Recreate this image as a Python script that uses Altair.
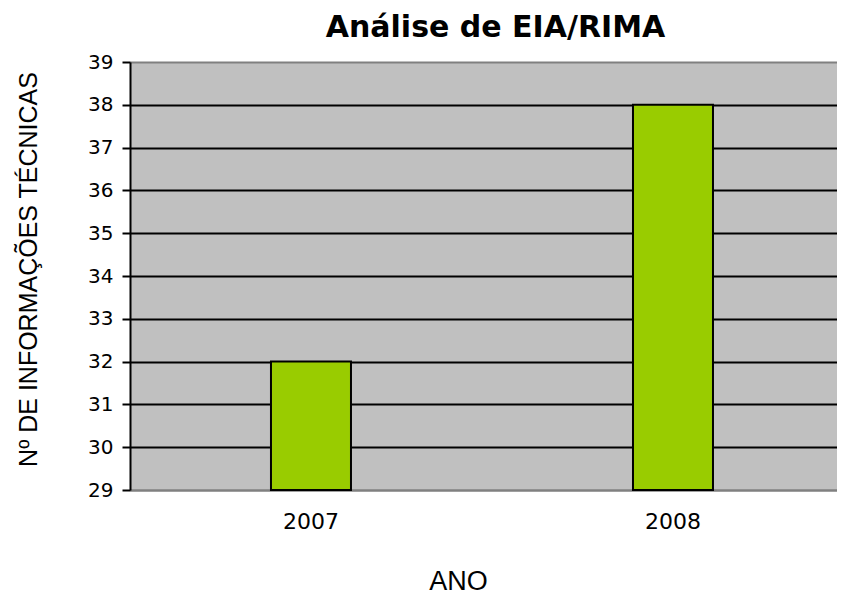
import altair as alt
import pandas as pd

years = ["2007", "2008"]
values = [32, 38]
y_ticks = [29, 30, 31, 32, 33, 34, 35, 36, 37, 38, 39]

df = pd.DataFrame({"ano": years, "valor": values})

x_axis = alt.Axis(
    title="ANO",
    labelAngle=0,
    labelFont="DejaVu Sans",
    labelFontSize=22,
    labelColor="#000000",
    labelPadding=21,
    ticks=False,
    tickSize=0,
    domainColor="#808080",
    domainWidth=2,
    grid=False,
    titleFont="Liberation Sans",
    titleFontSize=27,
    titleFontWeight="normal",
    titleColor="#000000",
    titleX=328,
    titleY=99,
    titleAlign="center",
    titleBaseline="alphabetic",
)

y_axis = alt.Axis(
    title="Nº DE INFORMAÇÕES TÉCNICAS",
    values=y_ticks,
    labelFont="DejaVu Sans",
    labelFontSize=20,
    labelColor="#000000",
    labelPadding=9,
    tickSize=8,
    tickWidth=2,
    tickColor="#000000",
    domainColor="#000000",
    domainWidth=2,
    grid=True,
    gridColor=alt.condition(
        "datum.value == 39 || datum.value == 29",
        alt.value("#808080"),
        alt.value("#000000"),
    ),
    gridWidth=2,
    titleFont="Liberation Sans",
    titleFontSize=25,
    titleFontWeight="normal",
    titleColor="#000000",
    titleAngle=270,
    titleX=-94,
    titleY=207,
    titleAlign="center",
    titleBaseline="alphabetic",
)

chart = (
    alt.Chart(df)
    .mark_bar(color="#99CC00", stroke="#000000", strokeWidth=2)
    .encode(
        x=alt.X(
            "ano:N",
            axis=x_axis,
            scale=alt.Scale(paddingInner=0.779, paddingOuter=0.366, align=0.532),
        ),
        y=alt.Y(
            "valor:Q",
            axis=y_axis,
            scale=alt.Scale(domain=[29, 39], zero=False, nice=False),
        ),
        y2=alt.datum(29),
    )
    .properties(
        width=707,
        height=428,
        autosize=alt.AutoSizeParams(type="none"),
        padding={"left": 122, "top": 54, "right": 0, "bottom": 105},
        background="#FFFFFF",
        title=alt.TitleParams(
            "Análise de EIA/RIMA",
            font="DejaVu Sans",
            fontSize=30,
            fontWeight="bold",
            color="#000000",
            anchor="middle",
            baseline="alphabetic",
            offset=15,
            dx=12,
            dy=30,
        ),
    )
    .configure_view(fill="#C0C0C0", strokeWidth=0)
)

chart.save("out.html", embed_options={"renderer": "svg", "actions": False})
